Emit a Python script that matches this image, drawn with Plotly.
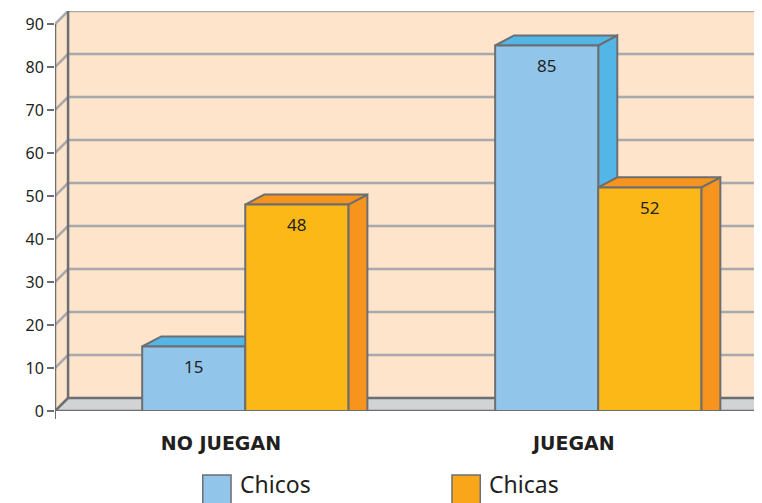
import plotly.graph_objects as go

# data
categories = ["NO JUEGAN", "JUEGAN"]
chicos = [15, 85]
chicas = [48, 52]
y_ticks = [0, 10, 20, 30, 40, 50, 60, 70, 80, 90]

# styling / pseudo-3D geometry
FRONT_BLUE = "#92C5EA"
SIDE_BLUE = "#53B6E7"
FRONT_ORANGE = "#FBB817"
SIDE_ORANGE = "#F7941D"
EDGE = "#6D6E71"
GRID = "#A7A9AC"
WALL = "#FDE4CB"
FLOOR = "#D1D3D4"

X_MIN, X_MAX = -0.5, 1.503
Y_MAX = 93.02
WALL_DX, WALL_DY = 0.037, 3.02  # depth of the back wall
BAR_DX, BAR_DY = 0.054, 2.33    # depth of each bar
BAR_W = 0.292
OFFSETS = {"Chicos": -0.253, "Chicas": 0.039}
LABEL_SHIFT = -0.03

FONT = "Noto Sans"


def poly(points):
    return "M " + " L ".join(f"{x},{y}" for x, y in points) + " Z"


shapes = []

# back wall
bx0 = X_MIN + WALL_DX
shapes.append(dict(type="rect", x0=bx0, x1=X_MAX, y0=WALL_DY, y1=Y_MAX,
                   fillcolor=WALL, line=dict(width=0), layer="between"))
# left side wall
shapes.append(dict(type="path", path=poly([(X_MIN, 0), (X_MIN, y_ticks[-1]), (bx0, Y_MAX), (bx0, WALL_DY)]),
                   fillcolor=WALL, line=dict(width=0), layer="between"))
# gridlines on back wall + diagonals on side wall
for v in y_ticks[1:]:
    shapes.append(dict(type="line", x0=bx0, x1=X_MAX, y0=v + WALL_DY, y1=v + WALL_DY,
                       line=dict(color=GRID, width=2.5), layer="between"))
    shapes.append(dict(type="line", x0=X_MIN, x1=bx0, y0=v, y1=v + WALL_DY,
                       line=dict(color=GRID, width=2.5), layer="between"))
# floor
shapes.append(dict(type="path", path=poly([(X_MIN, 0), (X_MAX, 0), (X_MAX, WALL_DY), (bx0, WALL_DY)]),
                   fillcolor=FLOOR, line=dict(width=0), layer="between"))
shapes.append(dict(type="line", x0=bx0, x1=X_MAX, y0=WALL_DY, y1=WALL_DY,
                   line=dict(color=EDGE, width=2.5), layer="between"))
shapes.append(dict(type="line", x0=X_MIN, x1=bx0, y0=0, y1=WALL_DY,
                   line=dict(color=EDGE, width=2.5), layer="between"))
# wall edges
shapes.append(dict(type="line", x0=bx0, x1=bx0, y0=WALL_DY, y1=Y_MAX,
                   line=dict(color=EDGE, width=2.5), layer="between"))
shapes.append(dict(type="line", x0=X_MIN, x1=X_MIN, y0=0, y1=y_ticks[-1],
                   line=dict(color=EDGE, width=2.5), layer="between"))
shapes.append(dict(type="line", x0=X_MIN, x1=X_MAX, y0=0, y1=0,
                   line=dict(color=EDGE, width=2.5), layer="between"))

# bar top / side faces (front faces are the real bars)
for name, vals, side in [("Chicos", chicos, SIDE_BLUE), ("Chicas", chicas, SIDE_ORANGE)]:
    for i, v in enumerate(vals):
        x0 = i + OFFSETS[name]
        x1 = x0 + BAR_W
        shapes.append(dict(type="path",
                           path=poly([(x1, 0), (x1, v), (x1 + BAR_DX, v + BAR_DY), (x1 + BAR_DX, 0)]),
                           fillcolor=side, line=dict(color=EDGE, width=2), layer="between"))
        shapes.append(dict(type="path",
                           path=poly([(x0, v), (x1, v), (x1 + BAR_DX, v + BAR_DY), (x0 + BAR_DX, v + BAR_DY)]),
                           fillcolor=side, line=dict(color=EDGE, width=2), layer="between"))

fig = go.Figure()

annotations = []
for name, vals, color in [("Chicos", chicos, FRONT_BLUE), ("Chicas", chicas, FRONT_ORANGE)]:
    xs = list(range(len(categories)))
    fig.add_trace(go.Bar(
        x=xs, y=vals, name=name, width=BAR_W, offset=OFFSETS[name],
        marker=dict(color=color, line=dict(color=EDGE, width=2)),
        showlegend=False, hoverinfo="skip",
    ))
    for i, v in enumerate(vals):
        annotations.append(dict(x=i + OFFSETS[name] + BAR_W / 2, y=v, yshift=-20, text=str(v),
                                showarrow=False, font=dict(family=FONT, size=17, color="#231F20")))

# x-axis boundary ticks
for xb in [X_MIN, X_MAX - 0.003]:
    shapes.append(dict(type="line", xref="x", yref="paper", x0=xb, x1=xb, y0=0, y1=-0.02,
                       line=dict(color=EDGE, width=2)))

# custom legend
legend_items = [("Chicos", FRONT_BLUE, 0.209), ("Chicas", "#F9A61A", 0.5615)]
for name, color, lx in legend_items:
    shapes.append(dict(type="rect", xref="paper", yref="paper", x0=lx, x1=lx + 0.04,
                       y0=-0.24, y1=-0.16, fillcolor=color, line=dict(color=EDGE, width=1.5)))
    annotations.append(dict(xref="paper", yref="paper", x=lx + 0.05, y=-0.2275, text=name,
                            xanchor="left", yanchor="bottom", showarrow=False,
                            font=dict(family=FONT, size=23, color="#231F20")))

# the page body adds an 8px offset, so the figure is 8px smaller than the window
fig.update_layout(
    width=754, height=495,
    margin=dict(l=47, r=0, t=3, b=92),
    paper_bgcolor="white", plot_bgcolor="white",
    shapes=shapes, annotations=annotations,
    barmode="overlay",
    font=dict(family=FONT, color="#231F20"),
)
fig.update_xaxes(
    range=[X_MIN, X_MAX], showgrid=False, zeroline=False, showline=False, automargin=False,
    tickvals=[i + LABEL_SHIFT for i in range(len(categories))],
    ticktext=[f"<b>{c}</b>" for c in categories],
    ticks="outside", ticklen=15, tickcolor="rgba(0,0,0,0)",
    tickfont=dict(family="DejaVu Sans", size=19, color="#231F20"),
)
fig.update_yaxes(
    range=[0, Y_MAX], showgrid=False, zeroline=False, showline=False, automargin=False,
    tickvals=y_ticks, ticks="outside", ticklen=7, tickwidth=2, tickcolor=EDGE,
    tickfont=dict(family=FONT, size=16, color="#231F20"),
)

fig.write_html("out.html")
